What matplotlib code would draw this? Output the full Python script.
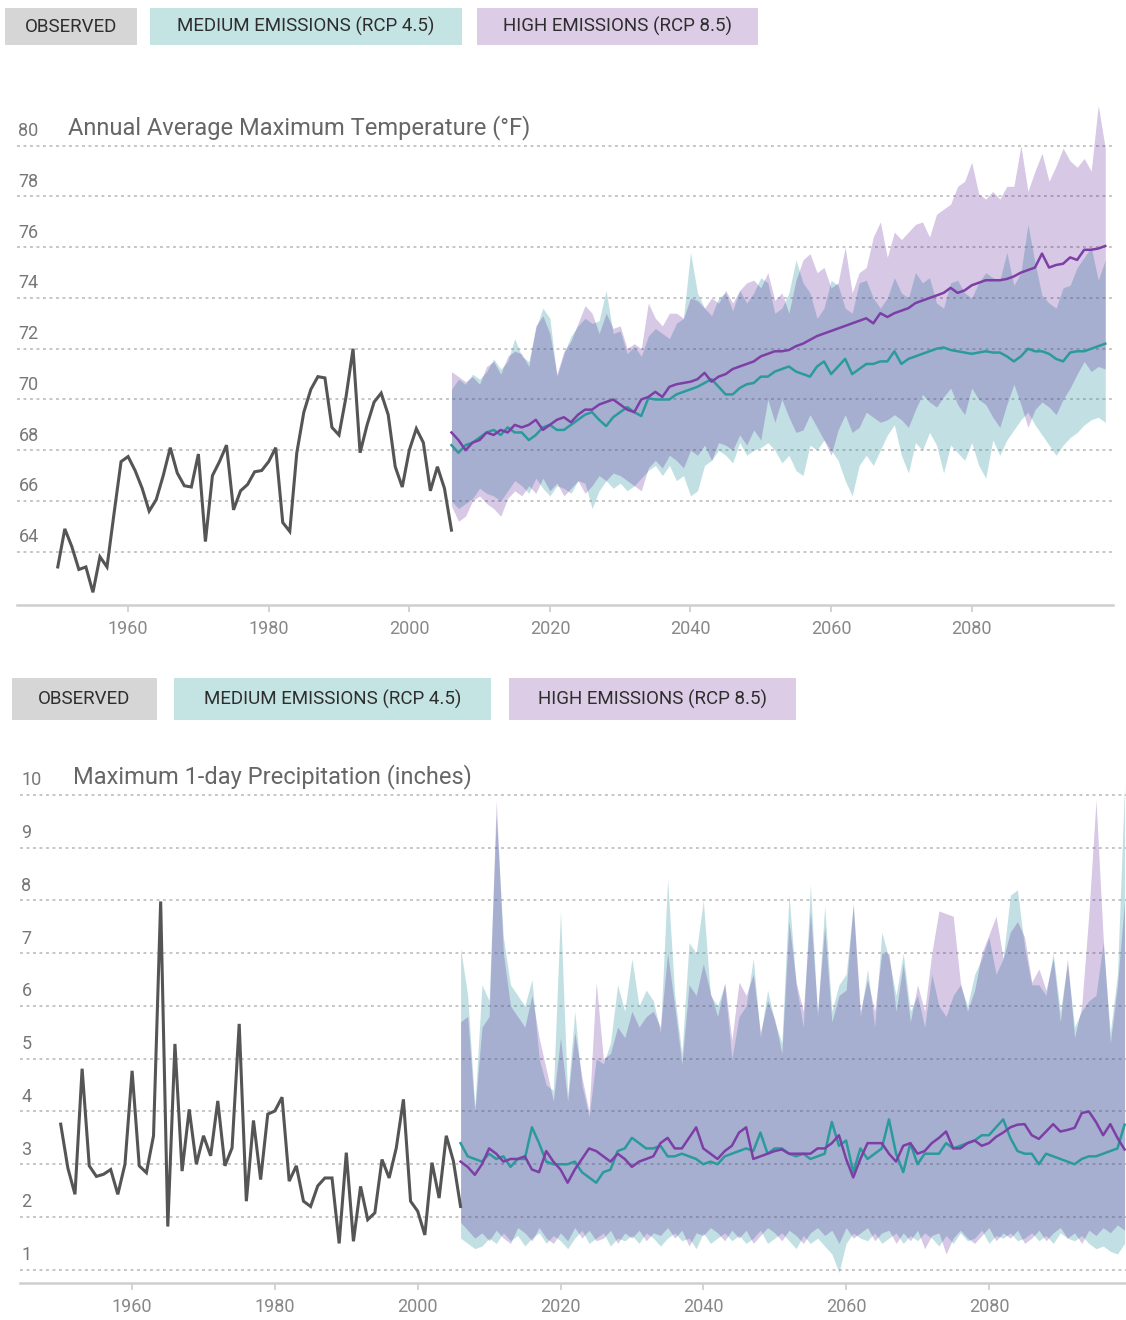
import matplotlib
matplotlib.use("Agg")
import matplotlib.pyplot as plt
from matplotlib.patches import Rectangle

plt.rcParams['font.family'] = ['Roboto', 'DejaVu Sans']

# ---- data -------------------------------------------------------------
obs_years = list(range(1950, 2007))
proj_years = list(range(2006, 2100))

# annual average maximum temperature (deg F)
temp_obs = [63.4, 64.9, 64.2, 63.3, 63.4, 62.4, 63.8, 63.4, 65.5, 67.55,
            67.75, 67.2, 66.5, 65.6, 66.05, 67.0, 68.1, 67.1, 66.6, 66.55,
            67.85, 64.4, 67.0, 67.55, 68.2, 65.65, 66.4, 66.65, 67.15, 67.2,
            67.55, 68.1, 65.15, 64.8, 67.9, 69.5, 70.4, 70.9, 70.85, 68.9,
            68.6, 70.1, 72.0, 67.9, 69.0, 69.9, 70.25, 69.4, 67.35, 66.55,
            68.0, 68.85, 68.3, 66.4, 67.35, 66.5, 64.85]

temp_med45 = [68.2, 67.9, 68.2, 68.3, 68.5, 68.7, 68.8, 68.6, 68.9, 68.7,
              68.7, 68.4, 68.6, 68.9, 69.0, 68.8, 68.8, 69.0, 69.2, 69.4,
              69.5, 69.2, 68.95, 69.3, 69.5, 69.7, 69.5, 69.35, 70.05, 70.0,
              70.0, 70.0, 70.2, 70.3, 70.4, 70.5, 70.65, 70.8, 70.5, 70.2,
              70.2, 70.45, 70.6, 70.65, 70.9, 70.9, 71.1, 71.2, 71.3, 71.1,
              71.0, 70.9, 71.3, 71.5, 71.0, 71.3, 71.6, 71.0, 71.2, 71.4,
              71.4, 71.5, 71.5, 71.9, 71.4, 71.6, 71.7, 71.8, 71.9, 72.0,
              72.05, 71.95, 71.9, 71.85, 71.8, 71.85, 71.9, 71.85, 71.85, 71.7,
              71.5, 71.7, 72.0, 71.9, 71.9, 71.8, 71.6, 71.5, 71.85, 71.9,
              71.9, 72.0, 72.1, 72.2]
temp_lo45 = [66.0, 65.7, 65.9, 66.1, 66.5, 66.3, 66.2, 66.0, 66.4, 66.8,
             66.6, 66.3, 66.9, 66.5, 66.2, 66.6, 66.5, 66.3, 66.8, 66.7,
             65.7, 66.4, 66.8, 66.5, 66.7, 66.4, 66.6, 66.9, 67.2, 67.4,
             67.0, 67.4, 66.8, 67.0, 66.2, 66.4, 67.4, 67.6, 68.0, 67.8,
             67.5, 68.3, 67.8, 68.0, 68.1, 68.3, 68.0, 67.5, 67.8, 67.2,
             67.0, 68.2, 68.0, 68.4, 68.0, 67.6, 66.8, 66.2, 67.4, 67.8,
             67.4, 68.0, 68.6, 69.0, 67.8, 67.1, 68.3, 68.0, 68.7, 68.2,
             67.1, 68.2, 67.9, 67.6, 68.3, 67.4, 66.9, 68.4, 67.8, 68.4,
             68.8, 69.2, 69.5, 69.0, 68.6, 68.2, 67.8, 68.2, 68.5, 68.7,
             69.0, 69.2, 69.3, 69.1]
temp_hi45 = [70.4, 70.8, 70.6, 71.0, 70.8, 71.1, 71.6, 71.2, 71.5, 72.4,
             71.7, 71.5, 72.8, 73.6, 73.2, 70.9, 71.8, 72.5, 72.9, 73.2,
             73.0, 73.1, 74.3, 72.6, 72.7, 71.8, 72.1, 71.7, 72.5, 72.8,
             72.6, 72.4, 73.0, 73.2, 75.8, 74.2, 73.6, 73.3, 74.0, 74.2,
             73.5, 74.3, 73.8, 74.2, 74.8, 74.6, 73.4, 73.6, 74.2, 75.5,
             74.6, 74.2, 73.2, 73.6, 74.7, 74.5, 73.6, 73.4, 74.6, 74.7,
             74.0, 73.6, 74.0, 74.8, 74.2, 74.0, 75.0, 74.6, 74.8, 73.8,
             73.6, 74.6, 74.7, 74.2, 74.0, 74.6, 75.0, 74.8, 74.7, 75.8,
             74.5, 75.0, 76.9, 75.4, 74.1, 73.8, 73.6, 74.4, 74.5, 75.2,
             75.6, 76.0, 74.7, 75.5]

temp_med85 = [68.7, 68.4, 68.0, 68.3, 68.4, 68.7, 68.6, 68.8, 68.7, 69.0,
              68.9, 69.0, 69.2, 68.8, 69.0, 69.2, 69.3, 69.1, 69.4, 69.6,
              69.6, 69.8, 69.9, 70.0, 69.8, 69.6, 69.5, 70.0, 70.1, 70.3,
              70.1, 70.5, 70.6, 70.65, 70.7, 70.8, 71.05, 70.7, 70.9, 71.0,
              71.2, 71.3, 71.4, 71.5, 71.7, 71.8, 71.9, 71.9, 71.95, 72.1,
              72.2, 72.35, 72.5, 72.6, 72.7, 72.8, 72.9, 73.0, 73.1, 73.2,
              73.0, 73.4, 73.25, 73.4, 73.5, 73.6, 73.8, 73.9, 74.0, 74.1,
              74.2, 74.4, 74.2, 74.3, 74.5, 74.6, 74.7, 74.7, 74.7, 74.75,
              74.85, 75.0, 75.1, 75.2, 75.75, 75.2, 75.3, 75.35, 75.6, 75.5,
              75.9, 75.9, 75.95, 76.05]
temp_lo85 = [65.8, 65.2, 65.4, 66.0, 66.2, 65.9, 65.7, 65.4, 66.1, 66.4,
             66.2, 66.6, 66.3, 66.9, 66.4, 66.7, 66.2, 66.5, 66.8, 66.3,
             66.6, 67.0, 66.8, 67.1, 67.0, 66.8, 66.6, 66.4, 67.3, 67.6,
             67.3, 67.8, 67.6, 67.3, 68.0, 67.8, 68.2, 67.6, 68.3, 68.2,
             68.0, 68.6, 68.2, 68.8, 68.4, 70.0, 69.1, 70.0, 69.3, 68.7,
             68.8, 69.4, 68.9, 68.4, 67.8, 68.8, 69.4, 68.7, 68.9, 69.5,
             69.3, 69.1, 69.2, 69.4, 69.2, 68.9, 69.6, 70.2, 69.9, 69.7,
             70.1, 70.45, 69.8, 69.4, 70.45, 70.0, 69.8, 69.3, 68.9, 69.8,
             70.6, 69.8, 68.9, 69.6, 69.9, 69.7, 69.4, 70.0, 70.45, 71.0,
             71.5, 71.1, 71.3, 71.2]
temp_hi85 = [71.1, 70.9, 70.7, 70.9, 70.6, 71.3, 71.5, 71.0, 71.7, 71.9,
             71.8, 71.3, 72.9, 73.3, 72.6, 71.0, 71.9, 72.3, 73.0, 73.7,
             73.4, 72.6, 73.4, 72.8, 72.9, 72.0, 72.2, 72.0, 73.8, 73.2,
             72.9, 73.4, 73.4, 73.2, 74.0, 73.9, 73.6, 74.0, 73.8, 74.3,
             73.8, 74.3, 74.6, 74.7, 74.4, 75.0, 73.9, 74.2, 73.4, 74.7,
             75.5, 75.75, 75.0, 75.2, 74.4, 74.6, 76.0, 74.2, 75.0, 75.2,
             76.4, 77.0, 75.6, 76.6, 76.3, 76.6, 76.9, 77.0, 76.4, 77.3,
             77.5, 77.7, 78.4, 78.6, 79.35, 78.1, 77.9, 78.2, 77.9, 78.4,
             78.4, 80.0, 78.2, 79.0, 79.7, 78.6, 79.2, 79.9, 79.4, 79.15,
             79.5, 79.0, 81.6, 79.9]

# maximum 1-day precipitation (inches)
prcp_obs = [3.76, 2.93, 2.43, 4.81, 2.97, 2.77, 2.81, 2.9, 2.43, 3.0,
            4.77, 2.97, 2.84, 3.54, 7.98, 1.82, 5.28, 2.87, 4.04, 3.0,
            3.54, 3.16, 4.2, 2.97, 3.31, 5.66, 2.3, 3.83, 2.71, 3.95,
            4.01, 4.27, 2.68, 2.97, 2.3, 2.2, 2.59, 2.74, 2.74, 1.5,
            3.22, 1.54, 2.58, 1.95, 2.08, 3.09, 2.74, 3.31, 4.23, 2.3,
            2.11, 1.66, 3.03, 2.36, 3.54, 3.06, 2.2]

prcp_med45 = [3.4, 3.15, 3.1, 3.05, 3.2, 3.1, 3.15, 2.95, 3.1, 3.1,
              3.7, 3.4, 3.05, 3.0, 3.0, 3.0, 3.05, 2.85, 2.75, 2.65,
              2.85, 2.9, 3.25, 3.3, 3.5, 3.4, 3.3, 3.3, 3.35, 3.15,
              3.15, 3.2, 3.15, 3.1, 3.0, 3.05, 3.0, 3.15, 3.2, 3.25,
              3.3, 3.25, 3.6, 3.2, 3.3, 3.3, 3.2, 3.15, 3.2, 3.1,
              3.15, 3.2, 3.8, 3.35, 3.45, 2.85, 3.3, 3.1, 3.2, 3.3,
              3.85, 3.2, 2.85, 3.4, 3.0, 3.2, 3.2, 3.2, 3.4, 3.3,
              3.35, 3.4, 3.45, 3.55, 3.55, 3.7, 3.85, 3.5, 3.25, 3.2,
              3.2, 3.0, 3.2, 3.15, 3.1, 3.05, 3.0, 3.1, 3.15, 3.15,
              3.2, 3.25, 3.3, 3.75]
prcp_lo45 = [1.6, 1.5, 1.4, 1.45, 1.6, 1.5, 1.7, 1.55, 1.65, 1.45,
             1.6, 1.7, 1.5, 1.65, 1.55, 1.4, 1.6, 1.75, 1.5, 1.6,
             1.7, 1.45, 1.6, 1.55, 1.65, 1.5, 1.7, 1.6, 1.45, 1.6,
             1.7, 1.55, 1.6, 1.4, 1.7, 1.5, 1.6, 1.7, 1.55, 1.65,
             1.5, 1.6, 1.75, 1.5, 1.6, 1.7, 1.55, 1.4, 1.65, 1.5,
             1.6, 1.45, 1.3, 0.95, 1.5, 1.7, 1.6, 1.55, 1.7, 1.5,
             1.6, 1.7, 1.5, 1.65, 1.55, 1.7, 1.6, 1.45, 1.65, 1.5,
             1.7, 1.55, 1.6, 1.75, 1.5, 1.65, 1.6, 1.7, 1.55, 1.6,
             1.7, 1.55, 1.65, 1.5, 1.7, 1.6, 1.55, 1.65, 1.5, 1.4,
             1.45, 1.35, 1.3, 1.5]
prcp_hi45 = [7.1, 6.2, 4.1, 6.4, 6.1, 9.6, 7.3, 6.4, 6.2, 6.0,
             6.5, 5.0, 4.5, 4.4, 7.8, 4.3, 5.9, 4.5, 3.9, 5.0,
             4.9, 5.3, 6.4, 5.9, 6.9, 6.0, 6.3, 6.1, 5.5, 8.4,
             6.2, 5.1, 7.2, 7.0, 8.0, 6.2, 6.0, 6.4, 5.0, 5.8,
             6.0, 6.9, 5.4, 6.3, 5.7, 5.3, 8.1, 6.4, 5.6, 8.3,
             5.8, 7.9, 5.9, 6.4, 6.6, 7.9, 5.8, 6.7, 5.6, 7.4,
             6.9, 6.2, 7.0, 5.9, 6.2, 5.6, 6.6, 6.0, 5.8, 6.2,
             6.4, 6.0, 6.6, 6.9, 7.3, 6.6, 6.9, 8.1, 8.2, 7.1,
             6.4, 6.4, 6.2, 7.0, 5.9, 6.8, 5.6, 5.9, 6.1, 6.2,
             7.2, 5.5, 6.6, 10.2]

prcp_med85 = [3.05, 2.95, 2.8, 3.0, 3.3, 3.2, 3.05, 3.1, 3.1, 3.15,
              2.9, 2.85, 3.25, 3.05, 2.9, 2.65, 2.9, 3.1, 3.3, 3.25,
              3.15, 3.05, 3.2, 3.1, 2.95, 3.05, 3.1, 3.15, 3.4, 3.5,
              3.3, 3.3, 3.5, 3.7, 3.3, 3.2, 3.1, 3.25, 3.35, 3.6,
              3.7, 3.1, 3.15, 3.2, 3.25, 3.28, 3.2, 3.2, 3.2, 3.2,
              3.3, 3.3, 3.4, 3.55, 3.1, 2.75, 3.1, 3.4, 3.4, 3.4,
              3.2, 3.05, 3.35, 3.4, 3.2, 3.25, 3.4, 3.5, 3.62, 3.3,
              3.3, 3.4, 3.45, 3.35, 3.4, 3.52, 3.6, 3.7, 3.75, 3.76,
              3.55, 3.48, 3.62, 3.76, 3.62, 3.65, 3.69, 3.97, 4.0, 3.8,
              3.55, 3.76, 3.5, 3.28]
prcp_lo85 = [1.9, 1.75, 1.6, 1.7, 1.55, 1.75, 1.6, 1.5, 1.8, 1.7,
             1.55, 1.8, 1.6, 1.5, 1.7, 1.55, 1.8, 1.6, 1.75, 1.55,
             1.6, 1.75, 1.5, 1.7, 1.6, 1.75, 1.55, 1.7, 1.65, 1.8,
             1.6, 1.75, 1.45, 1.7, 1.65, 1.8, 1.7, 1.55, 1.75, 1.6,
             1.75, 1.5, 1.65, 1.8, 1.7, 1.55, 1.75, 1.65, 1.5, 1.7,
             1.8, 1.65, 1.75, 1.5, 1.8, 1.6, 1.7, 1.8, 1.55, 1.7,
             1.75, 1.5, 1.7, 1.55, 1.75, 1.4, 1.65, 1.7, 1.3, 1.6,
             1.75, 1.6, 1.5, 1.65, 1.8, 1.55, 1.7, 1.6, 1.75, 1.5,
             1.6, 1.75, 1.55, 1.7, 1.8, 1.6, 1.7, 1.5, 1.75, 1.65,
             1.8, 1.7, 1.85, 1.75]
prcp_hi85 = [5.7, 5.8, 4.0, 5.6, 5.8, 9.9, 7.0, 6.0, 5.8, 5.6,
             6.2, 5.4, 4.8, 4.2, 5.4, 4.2, 5.5, 4.65, 4.0, 6.45,
             5.0, 5.1, 5.6, 5.4, 5.9, 5.6, 5.8, 5.9, 5.6, 7.0,
             6.0, 4.9, 6.4, 6.2, 6.8, 6.25, 5.8, 6.45, 5.35, 6.45,
             6.2, 6.6, 5.5, 6.1, 5.75, 5.1, 7.6, 6.45, 5.9, 7.8,
             5.9, 7.5, 5.7, 6.2, 6.3, 7.95, 5.9, 6.5, 5.9, 7.0,
             7.0, 5.9, 6.8, 5.7, 6.4, 5.9, 7.0, 7.8, 7.75, 7.7,
             6.45, 5.9, 6.3, 7.0, 7.35, 7.7, 6.9, 7.4, 7.6, 7.3,
             6.45, 6.7, 6.3, 6.9, 5.7, 6.9, 5.4, 6.0, 7.75, 9.9,
             7.3, 5.3, 6.4, 8.0]

legend_labels = ['OBSERVED', 'MEDIUM EMISSIONS (RCP 4.5)', 'HIGH EMISSIONS (RCP 8.5)']
decade_ticks = [1960, 1980, 2000, 2020, 2040, 2060, 2080]
temp_ticks = [64, 66, 68, 70, 72, 74, 76, 78, 80]
prcp_ticks = [1, 2, 3, 4, 5, 6, 7, 8, 9, 10]

# ---- style ------------------------------------------------------------
OBS_LINE = '#555555'
TEAL_LINE = '#2b9a9c'
PURPLE_LINE = '#7d3fa6'
TEAL_FILL = '#379ba5'
PURPLE_FILL = '#49058d'
BOX_COLORS = ['#d6d6d6', '#c4e3e3', '#dccce6']

W, H = 1126, 1320
fig = plt.figure(figsize=(W / 100, H / 100), dpi=100)


def px_axes(x0, y0, x1, y1):
    return fig.add_axes([x0 / W, 1 - y1 / H, (x1 - x0) / W, (y1 - y0) / H])


def legend_row(y0, y1, spans, size):
    for label, (x0, x1), color in zip(legend_labels, spans, BOX_COLORS):
        fig.patches.append(Rectangle((x0 / W, 1 - y1 / H), (x1 - x0) / W, (y1 - y0) / H,
                                     transform=fig.transFigure, facecolor=color,
                                     edgecolor='none'))
        fig.text((x0 + x1) / 2 / W, 1 - (y0 + y1) / 2 / H, label, ha='center',
                 va='center', fontsize=size, color='#2e2e2e')


def draw_panel(ax, obs, med45, lo45, hi45, med85, lo85, hi85, ticks, title,
               xlim, ylim, title_dx):
    ax.fill_between(proj_years, lo45, hi45, color=TEAL_FILL, alpha=0.3, lw=0)
    ax.fill_between(proj_years, lo85, hi85, color=PURPLE_FILL, alpha=0.22, lw=0)
    ax.plot(obs_years, obs, color=OBS_LINE, lw=2.2, solid_joinstyle='miter')
    ax.plot(proj_years, med45, color=TEAL_LINE, lw=1.8)
    ax.plot(proj_years, med85, color=PURPLE_LINE, lw=1.8)

    ax.set_xlim(*xlim)
    ax.set_ylim(*ylim)
    ax.set_yticks(ticks)
    ax.yaxis.grid(True, linestyle=(0, (1.6, 2.0)), color='#c2c2c2', lw=1.3)
    ax.set_axisbelow(True)
    ax.tick_params(axis='y', left=False, labelleft=False)
    for v in ticks:
        ax.annotate(str(v), xy=(0, v), xycoords=('axes fraction', 'data'),
                    xytext=(1, 4), textcoords='offset points', ha='left',
                    va='bottom', fontsize=13, color='#777777')
    ax.annotate(title, xy=(0, ticks[-1]), xycoords=('axes fraction', 'data'),
                xytext=(title_dx, 4), textcoords='offset points', ha='left',
                va='bottom', fontsize=17, color='#666666')

    ax.set_xticks(decade_ticks)
    ax.tick_params(axis='x', length=5, width=1.2, color='#cccccc',
                   labelsize=13, labelcolor='#888888', pad=6)
    for side in ('top', 'left', 'right'):
        ax.spines[side].set_visible(False)
    ax.spines['bottom'].set_color('#cfcfcf')
    ax.spines['bottom'].set_linewidth(1.8)


legend_row(8, 45, [(5, 137), (150, 462), (477, 758)], 13.5)
ax_t = px_axes(17, 95, 1113, 605)
draw_panel(ax_t, temp_obs, temp_med45, temp_lo45, temp_hi45,
           temp_med85, temp_lo85, temp_hi85, temp_ticks,
           'Annual Average Maximum Temperature (\u00b0F)',
           (1944.2, 2100.1), (61.9, 82.0), 37)

legend_row(678, 720, [(12, 157), (174, 491), (509, 796)], 13.5)
ax_b = px_axes(20, 779, 1126, 1283)
draw_panel(ax_b, prcp_obs, prcp_med45, prcp_lo45, prcp_hi45,
           prcp_med85, prcp_lo85, prcp_hi85, prcp_ticks,
           'Maximum 1-day Precipitation (inches)',
           (1944.3, 2099.2), (0.75, 10.3), 38)

fig.savefig('out.png', dpi=100)
